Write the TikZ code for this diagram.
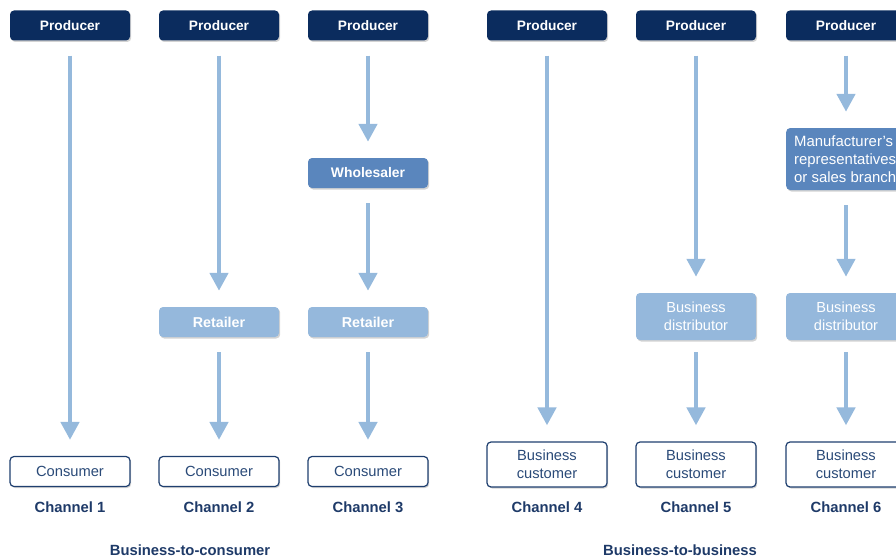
\documentclass[tikz,border=0pt]{standalone}
\usepackage{fontspec}
\setmainfont{Liberation Sans}
\usetikzlibrary{arrows.meta,shadows}
\definecolor{navy}{HTML}{0B2C5E}
\definecolor{midblue}{HTML}{5A86BD}
\definecolor{lightblue}{HTML}{95B8DC}
\definecolor{flowblue}{HTML}{95B9DC}
\definecolor{edgeblue}{HTML}{1F3F6F}
\definecolor{inkblue}{HTML}{2A4A78}
\definecolor{labelblue}{HTML}{1E3A68}
\tikzset{
  box/.style={rounded corners=4pt, minimum width=120pt, minimum height=30pt,
    align=center, font=\fontsize{14.7}{18}\selectfont, inner sep=2pt,
    drop shadow={shadow xshift=1.2pt, shadow yshift=-1.5pt, opacity=0.35, fill=gray}},
  producer/.style={box, fill=navy, text=white, font=\fontsize{13.7}{18}\selectfont\bfseries},
  wholesale/.style={box, fill=midblue, text=white, font=\fontsize{13.9}{18}\selectfont\bfseries},
  agent/.style={box, fill=midblue, text=white, font=\fontsize{14.9}{18}\selectfont},
  retail/.style={box, fill=lightblue, text=white, font=\fontsize{14.3}{18}\selectfont\bfseries},
  distrib/.style={box, fill=lightblue, text=white, font=\fontsize{14.6}{18}\selectfont},
  enduser/.style={box, fill=white, draw=edgeblue, line width=1.2pt, text=inkblue, font=\fontsize{14.7}{18}\selectfont},
  chan/.style={text=labelblue, font=\fontsize{14.8}{16}\selectfont\bfseries},
  group/.style={text=labelblue, font=\fontsize{14.8}{16}\selectfont\bfseries},
  flow/.style={draw=flowblue, line width=4.5pt, -{Triangle[width=18pt,length=18pt]}, shorten <=15pt, shorten >=16pt},
}
\begin{document}
\begin{tikzpicture}[x=1pt,y=-1pt]
\useasboundingbox (0,0) rectangle (896,559);
\clip (0,0) rectangle (896,559);

% producers
\node[producer] (p1) at (70,25.5) {Producer};
\node[producer] (p2) at (219,25.5) {Producer};
\node[producer] (p3) at (368,25.5) {Producer};
\node[producer] (p4) at (547,25.5) {Producer};
\node[producer] (p5) at (696,25.5) {Producer};
\node[producer] (p6) at (846,25.5) {Producer};

% intermediaries
\node[wholesale] (w3) at (368,173) {Wholesaler};
\node[retail] (r2) at (219,322) {Retailer};
\node[retail] (r3) at (368,322) {Retailer};
\node[agent, minimum height=62pt, align=left, inner xsep=8pt, anchor=west] (m6) at (786,159) {Manufacturer's\\representatives\\or sales branches};
\node[distrib, minimum height=47pt] (d5) at (696,316.5) {Business\\distributor};
\node[distrib, minimum height=47pt] (d6) at (846,316.5) {Business\\distributor};

% end users
\node[enduser] (c1) at (70,471.5) {Consumer};
\node[enduser] (c2) at (219,471.5) {Consumer};
\node[enduser] (c3) at (368,471.5) {Consumer};
\node[enduser, minimum height=45pt] (b4) at (547,464.5) {Business\\customer};
\node[enduser, minimum height=45pt] (b5) at (696,464.5) {Business\\customer};
\node[enduser, minimum height=45pt] (b6) at (846,464.5) {Business\\customer};

% channel labels
\node[chan] (ch1) at (70,507) {Channel 1};
\node[chan] (ch2) at (219,507) {Channel 2};
\node[chan] (ch3) at (368,507) {Channel 3};
\node[chan] (ch4) at (547,507) {Channel 4};
\node[chan] (ch5) at (696,507) {Channel 5};
\node[chan] (ch6) at (846,507) {Channel 6};

\node[group] (b2c) at (190,550) {Business-to-consumer};
\node[group] (b2b) at (680,550) {Business-to-business};

% flows
\draw[flow] (p1.south) -- (c1.north);
\draw[flow] (p2.south) -- (r2.north);
\draw[flow] (r2.south) -- (c2.north);
\draw[flow] (p3.south) -- (w3.north);
\draw[flow] (w3.south) -- (r3.north);
\draw[flow] (r3.south) -- (c3.north);
\draw[flow] (p4.south) -- (b4.north);
\draw[flow] (p5.south) -- (d5.north);
\draw[flow, shorten <=12pt] (d5.south) -- (b5.north);
\draw[flow] (p6.south) -- (p6.south |- m6.north);
\draw[flow] (d6.north |- m6.south) -- (d6.north);
\draw[flow, shorten <=12pt] (d6.south) -- (b6.north);
\end{tikzpicture}
\end{document}
